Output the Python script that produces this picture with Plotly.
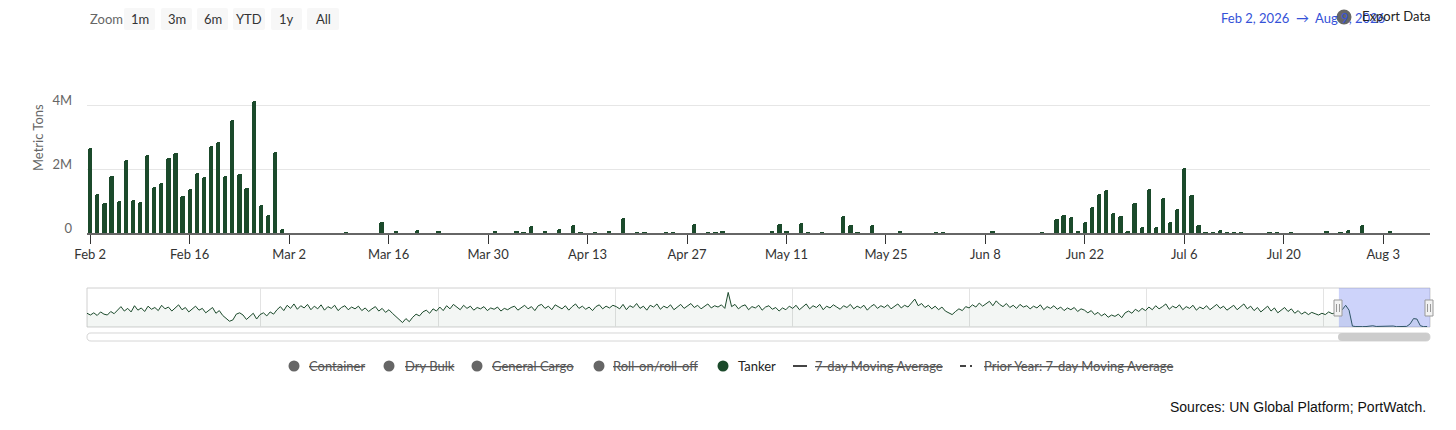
import pandas as pd
import plotly.graph_objs as go

'''
 Daily tanker volume with a navigator strip underneath.
 Values are in millions of metric tons.
'''

# the page body keeps its default 8px margin, so the figure is drawn 8px in
W, H, PAD = 1440, 414, 8
FONT = "Lato, Segoe UI, sans-serif"
GREEN = "#1b4a2b"

# Tanker daily volume (only the days with a visible bar)
tanker_dates = [
    "2026-02-02", "2026-02-03", "2026-02-04", "2026-02-05", "2026-02-06", "2026-02-07", "2026-02-08",
    "2026-02-09", "2026-02-10", "2026-02-11", "2026-02-12", "2026-02-13", "2026-02-14", "2026-02-15",
    "2026-02-16", "2026-02-17", "2026-02-18", "2026-02-19", "2026-02-20", "2026-02-21", "2026-02-22",
    "2026-02-23", "2026-02-24", "2026-02-25", "2026-02-26", "2026-02-27", "2026-02-28", "2026-03-01",
    "2026-03-10", "2026-03-15", "2026-03-17", "2026-03-20", "2026-03-23", "2026-03-31",
    "2026-04-03", "2026-04-04", "2026-04-05", "2026-04-07", "2026-04-09", "2026-04-11", "2026-04-12",
    "2026-04-14", "2026-04-16", "2026-04-18", "2026-04-20", "2026-04-21", "2026-04-24", "2026-04-25",
    "2026-04-28", "2026-04-30", "2026-05-01", "2026-05-02", "2026-05-09", "2026-05-10", "2026-05-11",
    "2026-05-13", "2026-05-14", "2026-05-16", "2026-05-19", "2026-05-20", "2026-05-21", "2026-05-23",
    "2026-05-27", "2026-06-01", "2026-06-02", "2026-06-09", "2026-06-16", "2026-06-18", "2026-06-19",
    "2026-06-20", "2026-06-21", "2026-06-22", "2026-06-23", "2026-06-24", "2026-06-25", "2026-06-26",
    "2026-06-27", "2026-06-28", "2026-06-29", "2026-06-30", "2026-07-01", "2026-07-02", "2026-07-03",
    "2026-07-04", "2026-07-05", "2026-07-06", "2026-07-07", "2026-07-08", "2026-07-09", "2026-07-10",
    "2026-07-11", "2026-07-12", "2026-07-13", "2026-07-14", "2026-07-18", "2026-07-19", "2026-07-21",
    "2026-07-26", "2026-07-28", "2026-07-29", "2026-07-31", "2026-08-04",
]
tanker_mt = [
    2.68, 1.21, 0.95, 1.80, 1.01, 2.30, 1.05,
    0.98, 2.46, 1.43, 1.58, 2.36, 2.52, 1.15,
    1.37, 1.89, 1.76, 2.73, 2.87, 1.80, 3.56,
    1.86, 1.40, 4.15, 0.89, 0.58, 2.53, 0.14,
    0.03, 0.33, 0.05, 0.10, 0.04, 0.04,
    0.06, 0.02, 0.23, 0.04, 0.13, 0.26, 0.02,
    0.02, 0.04, 0.47, 0.02, 0.03, 0.02, 0.02,
    0.28, 0.03, 0.02, 0.06, 0.05, 0.28, 0.06,
    0.32, 0.02, 0.02, 0.54, 0.25, 0.02, 0.25,
    0.06, 0.02, 0.02, 0.04, 0.02, 0.44, 0.57,
    0.50, 0.05, 0.33, 0.81, 1.23, 1.34, 0.63,
    0.54, 0.07, 0.94, 0.19, 1.38, 0.19, 1.10,
    0.33, 0.76, 2.04, 1.20, 0.25, 0.02, 0.03,
    0.10, 0.03, 0.02, 0.02, 0.02, 0.02, 0.02,
    0.06, 0.02, 0.10, 0.26, 0.04,
]

# Navigator history, one reading per week from 2019-01-07
nav_start = "2019-01-07"
nav_mt = [
    1.55, 1.35, 1.60, 1.30, 1.70, 1.45, 1.35, 1.75, 1.50, 1.95, 2.30, 1.80, 2.10, 1.70, 2.40, 1.90,
    2.15, 1.75, 2.35, 2.00, 2.20, 1.85, 2.45, 2.05, 2.25, 1.80, 2.10, 2.50, 1.95, 2.20, 1.70, 2.05,
    2.35, 1.90, 2.10, 1.60, 1.95, 2.20, 1.55, 1.85, 1.30, 0.95, 0.65, 0.80, 1.45, 1.60, 1.35, 0.85,
    1.20, 1.55, 0.90, 1.40,
    1.60, 1.25, 1.70, 1.45, 1.95, 2.30, 1.85, 2.45, 2.10, 2.60, 2.00, 2.40, 2.15, 2.55, 1.95, 2.35,
    2.05, 2.50, 1.90, 2.30, 2.10, 2.45, 1.85, 2.20, 2.40, 1.95, 2.25, 2.05, 2.35, 1.85, 2.15, 1.75,
    2.05, 2.30, 1.80, 2.10, 1.65, 1.95, 1.55, 1.20, 0.80, 0.50, 0.95, 0.60, 1.10, 1.45, 1.25, 1.70,
    1.90, 1.55, 2.05, 1.80,
    2.25, 1.85, 2.40, 2.05, 2.55, 2.20, 1.95, 2.45, 2.10, 2.35, 1.90, 2.20, 2.05, 2.30, 1.85, 2.15,
    2.00, 2.25, 1.80, 2.10, 1.95, 2.20, 2.35, 1.90, 2.15, 2.45, 2.05, 2.30, 1.85, 2.40, 2.55, 2.10,
    2.35, 1.95, 2.50, 2.25, 2.05, 2.40, 1.90, 2.30, 2.60, 2.10, 2.35, 2.00, 2.25, 1.85, 2.30, 2.50,
    2.05, 2.35, 2.15, 2.45,
    2.30, 2.05, 2.55, 1.95, 2.40, 2.20, 2.65, 2.10, 2.35, 1.90, 2.45, 2.25, 2.60, 2.00, 2.35, 2.15,
    2.50, 1.95, 2.30, 2.55, 2.10, 2.40, 2.65, 2.20, 2.45, 2.05, 2.35, 2.60, 2.15, 2.40, 2.25, 2.50,
    2.10, 3.90, 2.30, 2.55, 2.05, 2.35, 2.50, 1.95, 2.30, 2.15, 2.45, 1.90, 2.25, 2.40, 2.00, 2.20,
    1.80, 2.15, 1.95, 2.35,
    2.10, 2.45, 1.95, 2.30, 2.60, 2.05, 2.40, 2.20, 2.55, 1.95, 2.35, 2.15, 2.50, 2.25, 2.00, 2.40,
    2.20, 2.55, 2.05, 2.35, 2.15, 2.45, 1.90, 2.30, 2.55, 2.10, 2.40, 2.20, 2.50, 2.05, 2.35, 2.60,
    2.15, 2.45, 2.25, 2.70, 3.15, 2.40, 2.65, 2.20, 2.45, 2.05, 2.35, 1.95, 2.25, 1.80, 1.55, 1.40,
    1.75, 2.05, 1.85, 2.30,
    2.15, 2.50, 2.25, 2.70, 2.35, 2.60, 2.90, 2.40, 2.95, 2.55, 2.30, 2.65, 2.20, 2.45, 2.10, 2.55,
    2.25, 2.40, 2.05, 2.35, 2.15, 2.50, 1.95, 2.30, 2.10, 2.40, 2.00, 2.25, 1.85, 2.15, 1.95, 2.20,
    1.75, 2.05, 1.90, 1.60, 1.85, 1.40, 1.65, 1.25, 1.50, 1.10, 1.35, 1.20, 1.45, 1.05, 1.60, 1.80,
    1.55, 2.00, 1.75, 2.10,
    1.85, 2.25, 1.95, 2.40, 2.05, 2.30, 2.60, 2.00, 2.35, 2.15, 2.50, 1.95, 2.30, 2.10, 2.45, 1.90,
    2.25, 2.05, 2.40, 1.95, 2.30, 2.55, 2.10, 2.35, 1.90, 2.20, 2.45, 1.95, 2.30, 2.60, 2.05, 2.35,
    1.85, 2.20, 1.70, 2.05, 2.35, 1.80, 2.15, 1.60, 1.95, 2.20, 1.75, 2.05, 1.55, 1.85, 1.45, 1.70,
    1.40, 1.65, 1.50, 1.35,
    # 2026
    1.55, 1.40, 1.70, 1.50, 1.60, 1.70, 1.95, 2.45, 1.90, 0.10, 0.05, 0.08, 0.04, 0.05, 0.09, 0.14,
    0.06, 0.07, 0.12, 0.05, 0.14, 0.11, 0.04, 0.03, 0.02, 0.07, 0.35, 0.95, 0.90, 0.15, 0.03, 0.06,
]

y_ticks = [0, 2e6, 4e6, 6e6]
y_tick_labels = ["0", "2M", "4M", ""]

zoom_buttons = ["1m", "3m", "6m", "YTD", "1y", "All"]
view_start, view_end = "2026-02-02", "2026-08-09"

legend_names = ["Container", "Dry Bulk", "General Cargo", "Roll-on/roll-off", "Tanker",
                "7-day Moving Average", "Prior Year: 7-day Moving Average"]
legend_hidden = [True, True, True, True, False, True, True]


def X(px):
    return (px - PAD) / W


def Y(py):
    return 1 - (py - PAD) / H


def rounded_rect(x0, y0, x1, y1, r):
    # path in paper units, corners given in pixels
    p = lambda x, y: f"{X(x):.5f},{Y(y):.5f}"
    return (f"M {p(x0 + r, y0)} L {p(x1 - r, y0)} Q {p(x1, y0)} {p(x1, y0 + r)} "
            f"L {p(x1, y1 - r)} Q {p(x1, y1)} {p(x1 - r, y1)} L {p(x0 + r, y1)} "
            f"Q {p(x0, y1)} {p(x0, y1 - r)} L {p(x0, y0 + r)} Q {p(x0, y0)} {p(x0 + r, y0)} Z")


def note(text, x, y, anchor="left", size=13, color="#333", **kw):
    d = dict(text=text, x=X(x), y=Y(y), xref="paper", yref="paper", xanchor=anchor,
             yanchor="middle", font=dict(size=size, color=color), showarrow=False)
    if "family" in kw:
        d["font"]["family"] = kw.pop("family")
    d.update(kw)
    return d


fig = go.Figure()

# Main bars
fig.add_trace(go.Bar(x=tanker_dates,
                     y=[v * 1e6 for v in tanker_mt],
                     name="Tanker",
                     marker=dict(color=GREEN, line=dict(width=0), cornerradius=2),
                     width=0.6 * 86400000,
                     xaxis="x", yaxis="y",
                     showlegend=False))

# Navigator line
nav_dates = pd.date_range(nav_start, periods=len(nav_mt), freq="7D")
fig.add_trace(go.Scatter(x=nav_dates,
                         y=[v * 1e6 for v in nav_mt],
                         mode="lines",
                         line=dict(color=GREEN, width=1),
                         fill="tozeroy",
                         fillcolor="rgba(27,74,43,0.05)",
                         xaxis="x2", yaxis="y2",
                         hoverinfo="skip",
                         showlegend=False))

shapes = []
annotations = []

# Navigator frame, selection and handles
shapes.append(dict(type="rect", xref="paper", yref="paper", x0=X(87), x1=X(1430), y0=Y(327), y1=Y(288),
                   line=dict(color="#d0d0d0", width=1), layer="below"))
shapes.append(dict(type="rect", xref="x2", yref="paper", x0=view_start, x1=view_end, y0=Y(327), y1=Y(288),
                   fillcolor="rgba(90,110,240,0.3)", line=dict(width=0), layer="above"))
for hx in (1338, 1429):
    shapes.append(dict(type="rect", xref="paper", yref="paper", x0=X(hx - 4), x1=X(hx + 4),
                       y0=Y(316), y1=Y(300), fillcolor="#f2f2f2", line=dict(color="#999", width=1)))
    for dx in (-1.5, 1.5):
        shapes.append(dict(type="line", xref="paper", yref="paper", x0=X(hx + dx), x1=X(hx + dx),
                           y0=Y(312), y1=Y(304), line=dict(color="#999", width=1)))

# Scrollbar
shapes.append(dict(type="path", xref="paper", yref="paper", path=rounded_rect(87, 333, 1430, 341, 4),
                   fillcolor="white", line=dict(color="#d6d6d6", width=1)))
shapes.append(dict(type="path", xref="paper", yref="paper", path=rounded_rect(1338, 333, 1430, 341, 4),
                   fillcolor="#cccccc", line=dict(width=0)))

# Zoom buttons
annotations.append(note("Zoom", 88, 19, color="#666"))
btn_x = [(124, 155), (161, 192), (197, 228), (233, 265), (271, 302), (307, 339)]
for label, (bx0, bx1) in zip(zoom_buttons, btn_x):
    shapes.append(dict(type="path", xref="paper", yref="paper", path=rounded_rect(bx0, 8, bx1, 30, 2),
                       fillcolor="#f7f7f7", line=dict(width=0)))
    annotations.append(note(label, (bx0 + bx1) / 2, 19, anchor="center", color="#333"))

# Date range + export button (the button overlaps the range text, as on the page)
annotations.append(note("Feb 2, 2026  \u2192  Aug 9, 2026", 1387, 18, anchor="right", color="#3552d8"))
shapes.append(dict(type="circle", xref="paper", yref="paper", x0=X(1336.5), x1=X(1351.5),
                   y0=Y(24.5), y1=Y(9.5), fillcolor="#666", line=dict(width=0)))
annotations.append(note("Export Data", 1360, 16, color="#222"))

# Y axis title
annotations.append(note("Metric Tons", 38, 138, anchor="center", color="#666", textangle=-90))

# Legend
sym_x = [294, 389, 477, 599, 723, 800, 966]
text_x = [307, 403, 490, 611, 736, 813, 982]
for i, (name, hidden) in enumerate(zip(legend_names, legend_hidden)):
    cx = sym_x[i]
    col = "#666" if hidden else GREEN
    if i < 5:
        shapes.append(dict(type="circle", xref="paper", yref="paper", x0=X(cx - 5.5), x1=X(cx + 5.5),
                           y0=Y(371.5), y1=Y(360.5), fillcolor=col, line=dict(width=0)))
    elif i == 5:
        shapes.append(dict(type="line", xref="paper", yref="paper", x0=X(cx - 7), x1=X(cx + 7),
                           y0=Y(366), y1=Y(366), line=dict(color="#444", width=2)))
    else:
        shapes.append(dict(type="line", xref="paper", yref="paper", x0=X(cx - 6), x1=X(cx), y0=Y(366),
                           y1=Y(366), line=dict(color="#444", width=2)))
        shapes.append(dict(type="line", xref="paper", yref="paper", x0=X(cx + 4), x1=X(cx + 6), y0=Y(366),
                           y1=Y(366), line=dict(color="#444", width=2)))
    label = f"<s>{name}</s>" if hidden else name
    annotations.append(note(label, text_x[i], 366, color="#555" if hidden else "#222"))

# Source note
annotations.append(note("Sources: UN Global Platform; PortWatch.", 1428, 407, anchor="right", size=14,
                        color="#111", family="Liberation Sans, Arial"))

fig.update_layout(
    width=W, height=H,
    margin=dict(l=0, r=0, t=0, b=0, autoexpand=False),
    paper_bgcolor="white", plot_bgcolor="white",
    font=dict(family=FONT, size=13, color="#333"),
    bargap=0,
    showlegend=False,
    xaxis=dict(domain=[X(87), X(1430)], anchor="y", type="date", automargin=False,
               range=["2026-02-01 13:00", "2026-08-09 14:00"],
               tick0="2026-02-02", dtick=14 * 86400000, tickformat="%b %-d",
               ticks="outside", ticklen=9, tickcolor="#333", tickwidth=1,
               showline=True, linecolor="#666", linewidth=1.5,
               showgrid=False, zeroline=False,
               tickfont=dict(size=13, color="#333")),
    yaxis=dict(domain=[Y(233), Y(42)], anchor="x", range=[0, 6e6], automargin=False,
               tickvals=y_ticks, ticktext=y_tick_labels,
               showgrid=True, gridcolor="#e6e6e6", zeroline=False, showline=False,
               ticks="", ticklabelshift=-5, ticklabelstandoff=14,
               tickfont=dict(size=13, color="#666")),
    xaxis2=dict(domain=[X(87), X(1430)], anchor="y2", type="date", automargin=False,
                range=["2019-01-07", "2026-08-09"],
                tick0="2019-01-01", dtick="M12",
                showticklabels=False, ticks="", showgrid=True, gridcolor="#e3e3e3",
                showline=False, zeroline=False),
    yaxis2=dict(domain=[Y(327), Y(288)], anchor="x2", range=[0, 4.4e6], automargin=False,
                showticklabels=False, ticks="", showgrid=False, zeroline=False, showline=False),
    shapes=shapes,
    annotations=annotations,
)

fig.write_html("out.html")
